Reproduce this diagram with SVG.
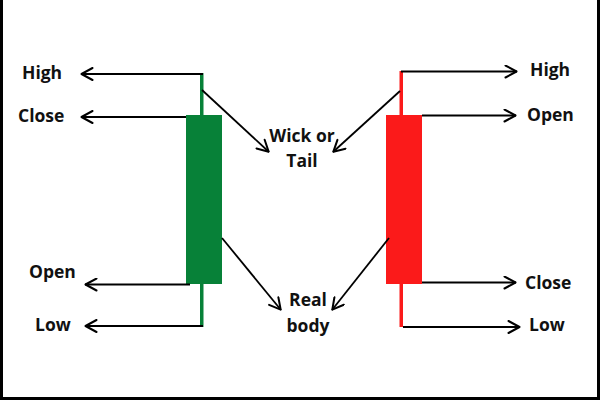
<svg xmlns="http://www.w3.org/2000/svg" width="600" height="400" viewBox="0 0 600 400">
<defs>
<marker id="ah" viewBox="0 0 14 14" refX="13" refY="7" markerWidth="14" markerHeight="14" markerUnits="userSpaceOnUse" orient="auto">
<path d="M1.5,1 L12.5,7 L1.5,13" fill="none" stroke="#000" stroke-width="2" stroke-linecap="round" stroke-linejoin="round"/>
</marker>
<style>
.lbl{font-family:"Open Sans","Liberation Sans",sans-serif;font-weight:700;font-size:17.5px;fill:#111}
.mid{text-anchor:middle}
.con{stroke:#000;stroke-width:1.8;fill:none;marker-end:url(#ah)}
.g{fill:#078138}
.r{fill:#fb1a1a}
</style>
</defs>
<rect x="0" y="0" width="600" height="400" fill="#fff"/>
<path d="M1.5,0 V398.5 H598.5 V0" fill="none" stroke="#000" stroke-width="3"/>

<g id="green-candle">
<rect class="g" x="200" y="73" width="3.5" height="254"/>
<rect class="g" x="186" y="115" width="36" height="169"/>
</g>
<g id="red-candle">
<rect class="r" x="399.5" y="71" width="3.5" height="256"/>
<rect class="r" x="386" y="115" width="36" height="169"/>
</g>

<g id="connectors">
<line class="con" x1="203" y1="74" x2="81" y2="74"/>
<line class="con" x1="186" y1="117" x2="81" y2="117"/>
<line class="con" x1="190" y1="284.5" x2="85" y2="284.5"/>
<line class="con" x1="203" y1="326" x2="85" y2="326"/>
<line class="con" x1="202" y1="90" x2="269" y2="152"/>
<line class="con" x1="222" y1="238" x2="281" y2="310"/>
<line class="con" x1="401" y1="71.5" x2="517" y2="71.5"/>
<line class="con" x1="422" y1="115.5" x2="516" y2="115.5"/>
<line class="con" x1="422" y1="282.5" x2="516" y2="282.5"/>
<line class="con" x1="403" y1="327" x2="520" y2="327"/>
<line class="con" x1="400" y1="91" x2="333" y2="152"/>
<line class="con" x1="389" y1="238" x2="332" y2="310"/>
</g>

<g id="label-high-left"><text class="lbl" x="22" y="79">High</text></g>
<g id="label-close-left"><text class="lbl" x="18" y="122">Close</text></g>
<g id="label-open-left"><text class="lbl" x="29" y="278">Open</text></g>
<g id="label-low-left"><text class="lbl" x="35" y="331">Low</text></g>
<g id="label-wick"><text class="lbl mid" x="302" y="142">Wick or</text><text class="lbl mid" x="302" y="167">Tail</text></g>
<g id="label-body"><text class="lbl mid" x="308" y="306">Real</text><text class="lbl mid" x="308" y="332">body</text></g>
<g id="label-high-right"><text class="lbl" x="530" y="76">High</text></g>
<g id="label-open-right"><text class="lbl" x="527" y="121">Open</text></g>
<g id="label-close-right"><text class="lbl" x="525" y="289">Close</text></g>
<g id="label-low-right"><text class="lbl" x="529" y="331">Low</text></g>
</svg>
